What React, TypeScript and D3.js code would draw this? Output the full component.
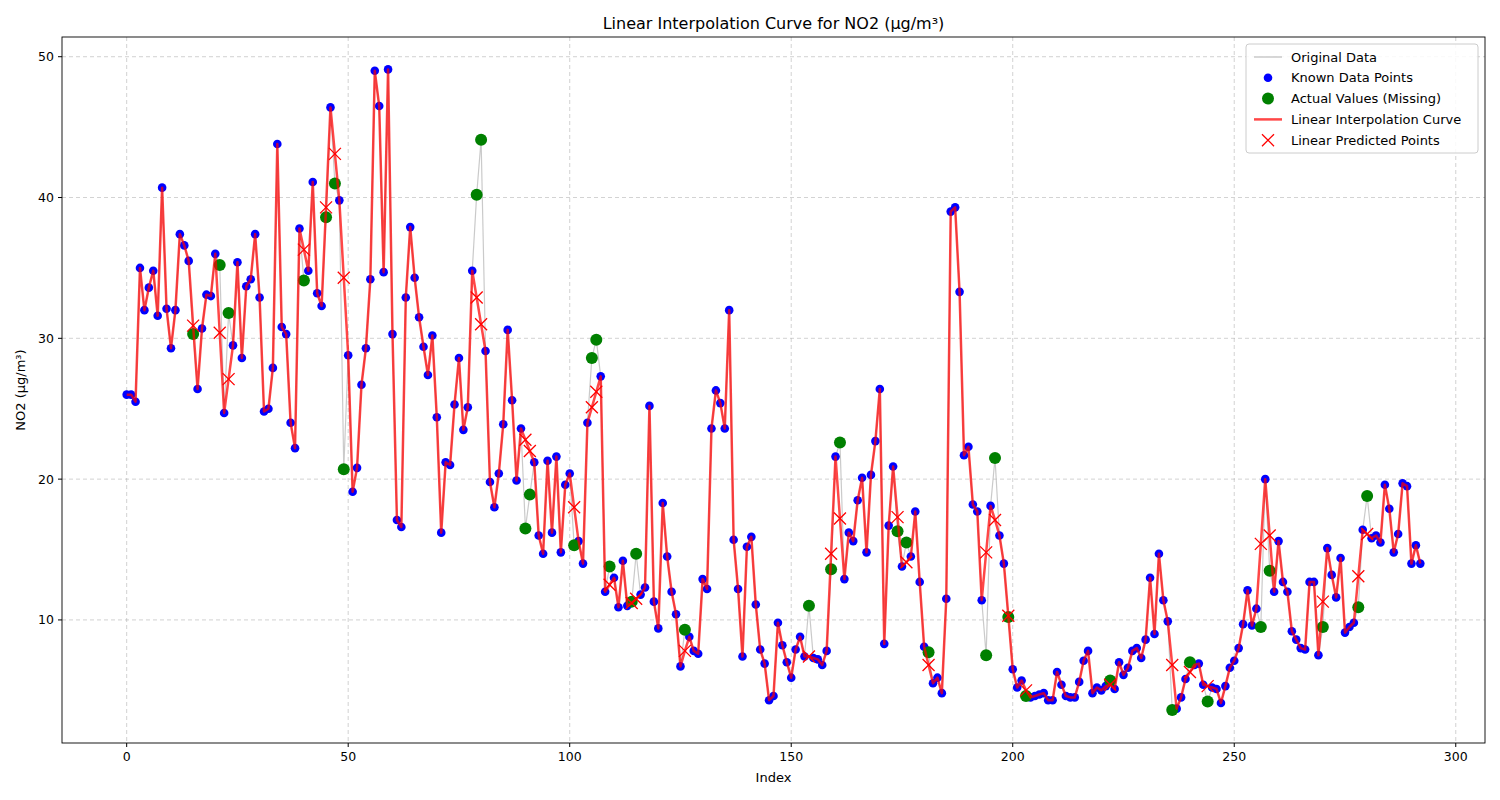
import { useEffect } from "react";
import * as d3 from "d3";

const W = 1500;
const H = 800;
const M = { top: 37, right: 15, bottom: 57, left: 62 };

// every index holds its true value (grey "Original Data" line)
const values = [
  26.0, 26.0, 25.5, 35.0, 32.0, 33.6, 34.8, 31.6, 40.7, 32.1,
  29.3, 32.0, 37.4, 36.6, 35.5, 30.3, 26.4, 30.7, 33.1, 33.0,
  36.0, 35.2, 24.7, 31.8, 29.5, 35.4, 28.6, 33.7, 34.2, 37.4,
  32.9, 24.8, 25.0, 27.9, 43.8, 30.8, 30.3, 24.0, 22.2, 37.8,
  34.1, 34.8, 41.1, 33.2, 32.3, 38.6, 46.4, 41.0, 39.8, 20.7,
  28.8, 19.1, 20.8, 26.7, 29.3, 34.2, 49.0, 46.5, 34.7, 49.1,
  30.3, 17.1, 16.6, 32.9, 37.9, 34.3, 31.5, 29.4, 27.4, 30.2,
  24.4, 16.2, 21.2, 21.0, 25.3, 28.6, 23.5, 25.1, 34.8, 40.2,
  44.1, 29.1, 19.8, 18.0, 20.4, 23.9, 30.6, 25.6, 19.9, 23.6,
  16.5, 18.9, 21.2, 16.0, 14.7, 21.3, 16.2, 21.6, 14.8, 19.6,
  20.4, 15.3, 15.6, 14.0, 24.0, 28.6, 29.9, 27.3, 12.0, 13.8,
  13.0, 10.9, 14.2, 11.0, 11.3, 14.7, 11.8, 12.3, 25.2, 11.3,
  9.4, 18.3, 14.5, 12.0, 10.4, 6.7, 9.3, 8.8, 7.8, 7.6,
  12.9, 12.2, 23.6, 26.3, 25.4, 23.6, 32.0, 15.7, 12.2, 7.4,
  15.2, 15.9, 11.1, 7.9, 6.9, 4.3, 4.6, 9.8, 8.2, 7.0,
  5.9, 7.9, 8.8, 7.4, 11.0, 7.3, 7.2, 6.8, 7.8, 13.6,
  21.6, 22.6, 12.9, 16.2, 15.6, 18.5, 20.1, 14.8, 20.3, 22.7,
  26.4, 8.3, 16.7, 20.9, 16.3, 13.8, 15.5, 14.5, 17.7, 12.7,
  8.1, 7.7, 5.5, 5.9, 4.8, 11.5, 39.0, 39.3, 33.3, 21.7,
  22.3, 18.2, 17.7, 11.4, 7.5, 18.1, 21.5, 16.0, 14.0, 10.2,
  6.5, 5.2, 5.7, 4.6, 4.5, 4.6, 4.7, 4.8, 4.3, 4.3,
  6.3, 5.4, 4.6, 4.5, 4.5, 5.6, 7.1, 7.8, 4.8, 5.2,
  5.0, 5.3, 5.7, 5.1, 7.0, 6.1, 6.6, 7.8, 8.0, 7.3,
  8.6, 13.0, 9.0, 14.7, 11.4, 9.9, 3.6, 3.7, 4.5, 5.8,
  7.0, 6.8, 6.9, 5.4, 4.2, 5.2, 5.1, 4.1, 5.3, 6.6,
  7.1, 8.0, 9.7, 12.1, 9.6, 10.8, 9.5, 20.0, 13.5, 12.0,
  15.6, 12.7, 12.0, 9.2, 8.6, 8.0, 7.9, 12.7, 12.7, 7.5,
  9.5, 15.1, 13.2, 11.6, 14.4, 9.1, 9.5, 9.8, 10.9, 16.4,
  18.8, 15.8, 16.0, 15.5, 19.6, 17.9, 14.8, 16.1, 19.7, 19.5,
  14.0, 15.3, 14.0,
];

const missingIdx = [
  15, 21, 23, 40, 45, 47, 49, 79, 80, 90, 91, 101, 105, 106, 109, 114, 115,
  126, 154, 159, 161, 174, 176, 181, 194, 196, 199, 203, 222, 236, 240, 244,
  256, 258, 270, 278, 280,
];
const predicted = [
  30.9, 30.4, 27.1, 36.3, 39.3, 43.1, 34.3, 32.9, 31.0, 22.8, 22.0, 18.0,
  25.1, 26.2, 12.5, 11.2, 11.5, 7.8, 7.4, 14.7, 17.2, 17.3, 14.1, 6.8, 14.8,
  17.1, 10.3, 5.0, 5.4, 6.8, 6.3, 5.3, 15.4, 16.0, 11.3, 13.1, 16.1,
];

const xTicks = [0, 50, 100, 150, 200, 250, 300];
const yTicks = [10, 20, 30, 40, 50];

const FONT = "DejaVu Sans, sans-serif";

export default function App() {
  useEffect(() => {
    document.body.style.margin = "0";
  }, []);

  const x = d3.scaleLinear().domain([-14.6, 306.6]).range([M.left, W - M.right]);
  const y = d3.scaleLinear().domain([1.26, 51.4]).range([H - M.bottom, M.top]);

  const missingSet = new Set(missingIdx);
  const all = values.map((v, i) => ({ i, v }));
  const known = all.filter((d) => !missingSet.has(d.i));
  const actual = missingIdx.map((i) => ({ i, v: values[i] }));
  const pred = missingIdx.map((i, k) => ({ i, v: predicted[k] }));
  const interp = [...known, ...pred].sort((a, b) => a.i - b.i);

  const line = d3
    .line<{ i: number; v: number }>()
    .x((d) => x(d.i))
    .y((d) => y(d.v));

  const x0 = M.left;
  const x1 = W - M.right;
  const y0 = H - M.bottom;
  const y1 = M.top;

  const legend = [
    { label: "Original Data", kind: "gray" },
    { label: "Known Data Points", kind: "blue" },
    { label: "Actual Values (Missing)", kind: "green" },
    { label: "Linear Interpolation Curve", kind: "red" },
    { label: "Linear Predicted Points", kind: "x" },
  ];

  return (
    <svg width={W} height={H} style={{ display: "block", fontFamily: FONT }}>
      <rect width={W} height={H} fill="#fff" />
      {xTicks.map((t) => (
        <line key={"gx" + t} x1={x(t)} x2={x(t)} y1={y1} y2={y0} stroke="#b0b0b0" strokeDasharray="4,3" strokeWidth={0.8} opacity={0.7} />
      ))}
      {yTicks.map((t) => (
        <line key={"gy" + t} x1={x0} x2={x1} y1={y(t)} y2={y(t)} stroke="#b0b0b0" strokeDasharray="4,3" strokeWidth={0.8} opacity={0.7} />
      ))}

      <path d={line(all) ?? ""} fill="none" stroke="#bdbdbd" strokeWidth={1.2} opacity={0.8} />
      {known.map((d) => (
        <circle key={"k" + d.i} cx={x(d.i)} cy={y(d.v)} r={4.3} fill="#0000ff" />
      ))}
      {actual.map((d) => (
        <circle key={"a" + d.i} cx={x(d.i)} cy={y(d.v)} r={6} fill="#008000" />
      ))}
      <path d={line(interp) ?? ""} fill="none" stroke="#ff0000" strokeOpacity={0.72} strokeWidth={2.5} strokeLinejoin="round" />
      {pred.map((d) => (
        <path
          key={"p" + d.i}
          d={`M${x(d.i) - 6},${y(d.v) - 6}L${x(d.i) + 6},${y(d.v) + 6}M${x(d.i) - 6},${y(d.v) + 6}L${x(d.i) + 6},${y(d.v) - 6}`}
          stroke="#ff0000"
          strokeWidth={1.3}
        />
      ))}

      <rect x={x0} y={y1} width={x1 - x0} height={y0 - y1} fill="none" stroke="#000" strokeWidth={0.9} />
      {xTicks.map((t) => (
        <g key={"tx" + t}>
          <line x1={x(t)} x2={x(t)} y1={y0} y2={y0 + 4} stroke="#000" />
          <text x={x(t)} y={y0 + 18} textAnchor="middle" fontSize={12.5}>{t}</text>
        </g>
      ))}
      {yTicks.map((t) => (
        <g key={"ty" + t}>
          <line x1={x0 - 4} x2={x0} y1={y(t)} y2={y(t)} stroke="#000" />
          <text x={x0 - 8} y={y(t) + 4.5} textAnchor="end" fontSize={12.5}>{t}</text>
        </g>
      ))}
      <text x={(x0 + x1) / 2} y={782} textAnchor="middle" fontSize={13}>Index</text>
      <text transform={`translate(25,${(y0 + y1) / 2}) rotate(-90)`} textAnchor="middle" fontSize={13}>NO2 (µg/m³)</text>
      <text x={(x0 + x1) / 2} y={29} textAnchor="middle" fontSize={16}>Linear Interpolation Curve for NO2 (µg/m³)</text>

      <g transform="translate(1246,44)">
        <rect width={232} height={109} rx={3} fill="#fff" fillOpacity={0.85} stroke="#ccc" />
        {legend.map((e, k) => {
          const cy = 13 + k * 20.8;
          return (
            <g key={e.label}>
              {e.kind === "gray" && <line x1={8} x2={36} y1={cy} y2={cy} stroke="#bdbdbd" strokeWidth={1.2} />}
              {e.kind === "blue" && <circle cx={22} cy={cy} r={4.3} fill="#0000ff" />}
              {e.kind === "green" && <circle cx={22} cy={cy} r={6} fill="#008000" />}
              {e.kind === "red" && <line x1={8} x2={36} y1={cy} y2={cy} stroke="#ff0000" strokeOpacity={0.72} strokeWidth={2.5} />}
              {e.kind === "x" && (
                <path d={`M16,${cy - 6}L28,${cy + 6}M16,${cy + 6}L28,${cy - 6}`} stroke="#ff0000" strokeWidth={1.3} />
              )}
              <text x={45} y={cy + 4.5} fontSize={13}>{e.label}</text>
            </g>
          );
        })}
      </g>
    </svg>
  );
}
